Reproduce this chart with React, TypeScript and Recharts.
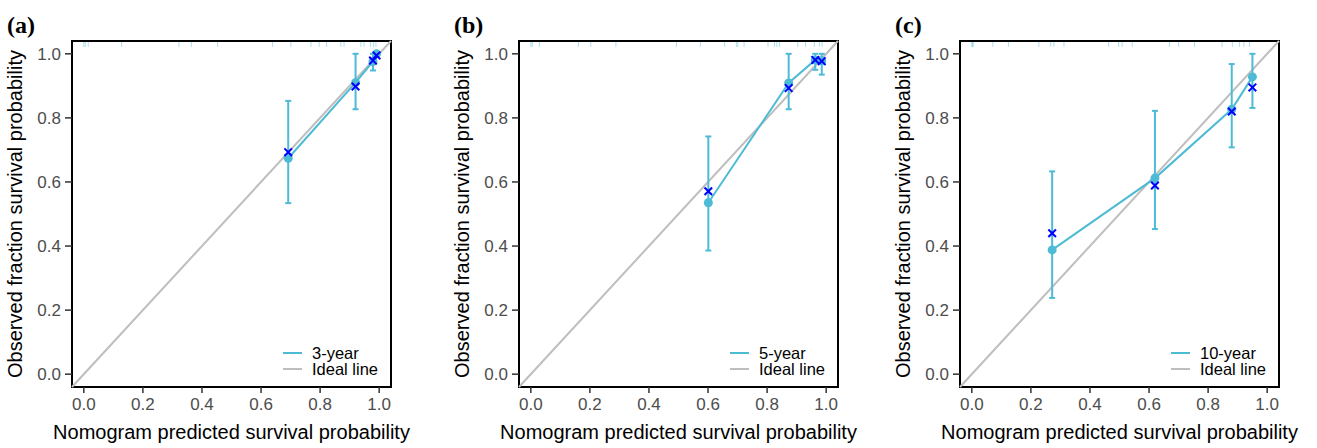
import React from "react";
import {
  ScatterChart,
  Scatter,
  XAxis,
  YAxis,
  ErrorBar,
  ReferenceLine,
  ReferenceArea,
  Legend,
  Label,
} from "recharts";

const TICKS = [0, 0.2, 0.4, 0.6, 0.8, 1.0];
const DOMAIN: [number, number] = [-0.04, 1.04];

// (a) 3-year
const predA = [0.692, 0.92, 0.979, 0.991];
const obsA = [0.674, 0.91, 0.976, 1.0];
const lowA = [0.534, 0.827, 0.948, 0.99];
const highA = [0.853, 1.0, 1.0, 1.0];
const corrA = [0.693, 0.898, 0.979, 0.995];
const rugA = [0.0, 0.005, 0.015, 0.128, 0.322, 0.364, 0.453, 0.639, 0.701, 0.769, 0.797, 0.822, 0.87, 0.881, 0.938, 0.949, 0.97, 0.981, 0.989];

// (b) 5-year
const predB = [0.601, 0.873, 0.963, 0.985];
const obsB = [0.535, 0.909, 0.981, 0.978];
const lowB = [0.386, 0.827, 0.95, 0.935];
const highB = [0.742, 1.0, 1.0, 1.0];
const corrB = [0.571, 0.893, 0.981, 0.977];
const rugB = [0.0, 0.005, 0.029, 0.161, 0.203, 0.288, 0.493, 0.574, 0.656, 0.696, 0.701, 0.722, 0.803, 0.825, 0.833, 0.842, 0.904, 0.93, 0.96, 0.977, 0.986];

// (c) 10-year
const predC = [0.272, 0.62, 0.88, 0.95];
const obsC = [0.388, 0.612, 0.827, 0.928];
const lowC = [0.238, 0.453, 0.708, 0.831];
const highC = [0.633, 0.822, 0.968, 1.0];
const corrC = [0.44, 0.589, 0.82, 0.895];
const rugC = [0.0, 0.002, 0.005, 0.071, 0.124, 0.227, 0.267, 0.278, 0.312, 0.463, 0.497, 0.509, 0.543, 0.669, 0.7, 0.754, 0.847, 0.882, 0.906, 0.921, 0.94];

const MAIN = "#4DBBD5";
const CROSS = "#0000FF";
const IDEAL = "#BEBEBE";
const FONT = "'Liberation Sans', Arial, sans-serif";

const panels = [
  { tag: "(a)", name: "3-year", left: 0, pred: predA, obs: obsA, low: lowA, high: highA, corr: corrA, rug: rugA },
  { tag: "(b)", name: "5-year", left: 447, pred: predB, obs: obsB, low: lowB, high: highB, corr: corrB, rug: rugB },
  { tag: "(c)", name: "10-year", left: 888, pred: predC, obs: obsC, low: lowC, high: highC, corr: corrC, rug: rugC },
];

const Dot = (p: any) => <circle cx={p.cx} cy={p.cy} r={4.5} fill={MAIN} />;

const Cross = (p: any) => {
  const s = 3.8;
  return (
    <g stroke={CROSS} strokeWidth={2}>
      <line x1={p.cx - s} y1={p.cy - s} x2={p.cx + s} y2={p.cy + s} />
      <line x1={p.cx - s} y1={p.cy + s} x2={p.cx + s} y2={p.cy - s} />
    </g>
  );
};

const RugTick = (p: any) => (
  <line x1={p.cx} x2={p.cx} y1={p.cy + 1} y2={p.cy + 6} stroke={MAIN} strokeOpacity={0.45} strokeWidth={1} />
);

const XTitle = (props: any) => {
  const vb = props.viewBox;
  return (
    <text x={vb.x + vb.width / 2} y={vb.y + 52} textAnchor="middle" fontSize={20} fill="#000">
      Nomogram predicted survival probability
    </text>
  );
};

const YTitle = (props: any) => {
  const vb = props.viewBox;
  const x = vb.x + 12;
  const y = vb.y + vb.height / 2;
  return (
    <text x={x} y={y} transform={`rotate(-90, ${x}, ${y})`} textAnchor="middle" fontSize={20} fill="#000">
      Observed fraction survival probability
    </text>
  );
};

function LegendBox({ name }: { name: string }) {
  const rows = [
    { label: name, color: MAIN },
    { label: "Ideal line", color: IDEAL },
  ];
  return (
    <div style={{ fontFamily: FONT, fontSize: 16.5, color: "#000" }}>
      {rows.map((r) => (
        <div key={r.label} style={{ display: "flex", alignItems: "center", height: 16, lineHeight: "16px" }}>
          <span style={{ display: "inline-block", width: 19, height: 2, background: r.color, marginRight: 10 }} />
          <span>{r.label}</span>
        </div>
      ))}
    </div>
  );
}

function Panel({ p }: { p: (typeof panels)[number] }) {
  const points = p.pred.map((x, i) => ({ x, y: p.obs[i], err: [p.obs[i] - p.low[i], p.high[i] - p.obs[i]] }));
  const corrected = p.pred.map((x, i) => ({ x, y: p.corr[i] }));
  const rug = p.rug.map((x) => ({ x, y: DOMAIN[1] }));

  return (
    <div style={{ position: "absolute", left: p.left, top: 0, width: 425, height: 448 }}>
      <ScatterChart width={425} height={448} margin={{ top: 41, right: 34, bottom: 0, left: 10 }}>
        <XAxis
          type="number"
          dataKey="x"
          domain={DOMAIN}
          allowDataOverflow
          ticks={TICKS}
          interval={0}
          tickFormatter={(v: number) => v.toFixed(1)}
          tick={{ fill: "#4D4D4D", fontSize: 17 }}
          tickLine={{ stroke: "#333", strokeWidth: 1.5 }}
          tickSize={6}
          tickMargin={5}
          axisLine={false}
          height={61}
        >
          <Label content={XTitle} />
        </XAxis>
        <YAxis
          type="number"
          dataKey="y"
          domain={DOMAIN}
          allowDataOverflow
          ticks={TICKS}
          interval={0}
          tickFormatter={(v: number) => v.toFixed(1)}
          tick={{ fill: "#4D4D4D", fontSize: 17 }}
          tickLine={{ stroke: "#333", strokeWidth: 1.5 }}
          tickSize={7}
          tickMargin={4}
          axisLine={false}
          width={62}
        >
          <Label content={YTitle} />
        </YAxis>
        <ReferenceLine
          segment={[
            { x: DOMAIN[0], y: DOMAIN[0] },
            { x: DOMAIN[1], y: DOMAIN[1] },
          ]}
          stroke={IDEAL}
          strokeWidth={2}
        />
        <Scatter data={rug} shape={RugTick} isAnimationActive={false} legendType="none" />
        <Scatter
          data={points}
          line={{ stroke: MAIN, strokeWidth: 2 }}
          shape={Dot}
          isAnimationActive={false}
          legendType="none"
        >
          <ErrorBar dataKey="err" direction="y" width={3} stroke={MAIN} strokeWidth={2} isAnimationActive={false} />
        </Scatter>
        <Scatter data={corrected} shape={Cross} isAnimationActive={false} legendType="none" />
        <ReferenceArea
          x1={DOMAIN[0]}
          x2={DOMAIN[1]}
          y1={DOMAIN[0]}
          y2={DOMAIN[1]}
          fill="none"
          stroke="#000"
          strokeWidth={2}
        />
        <Legend
          layout="vertical"
          align="center"
          verticalAlign="middle"
          content={() => <LegendBox name={p.name} />}
          wrapperStyle={{ left: 283, top: 345, width: 110, height: 34 }}
        />
      </ScatterChart>
      <div
        style={{
          position: "absolute",
          left: 7,
          top: 13,
          fontFamily: "'Liberation Serif', 'Times New Roman', serif",
          fontWeight: "bold",
          fontSize: 24,
          lineHeight: "24px",
          color: "#000",
        }}
      >
        {p.tag}
      </div>
    </div>
  );
}

export default function App() {
  return (
    <div
      style={{
        position: "absolute",
        left: 0,
        top: 0,
        width: 1317,
        height: 448,
        background: "#fff",
        fontFamily: FONT,
        overflow: "hidden",
      }}
    >
      {panels.map((p) => (
        <Panel key={p.tag} p={p} />
      ))}
    </div>
  );
}
